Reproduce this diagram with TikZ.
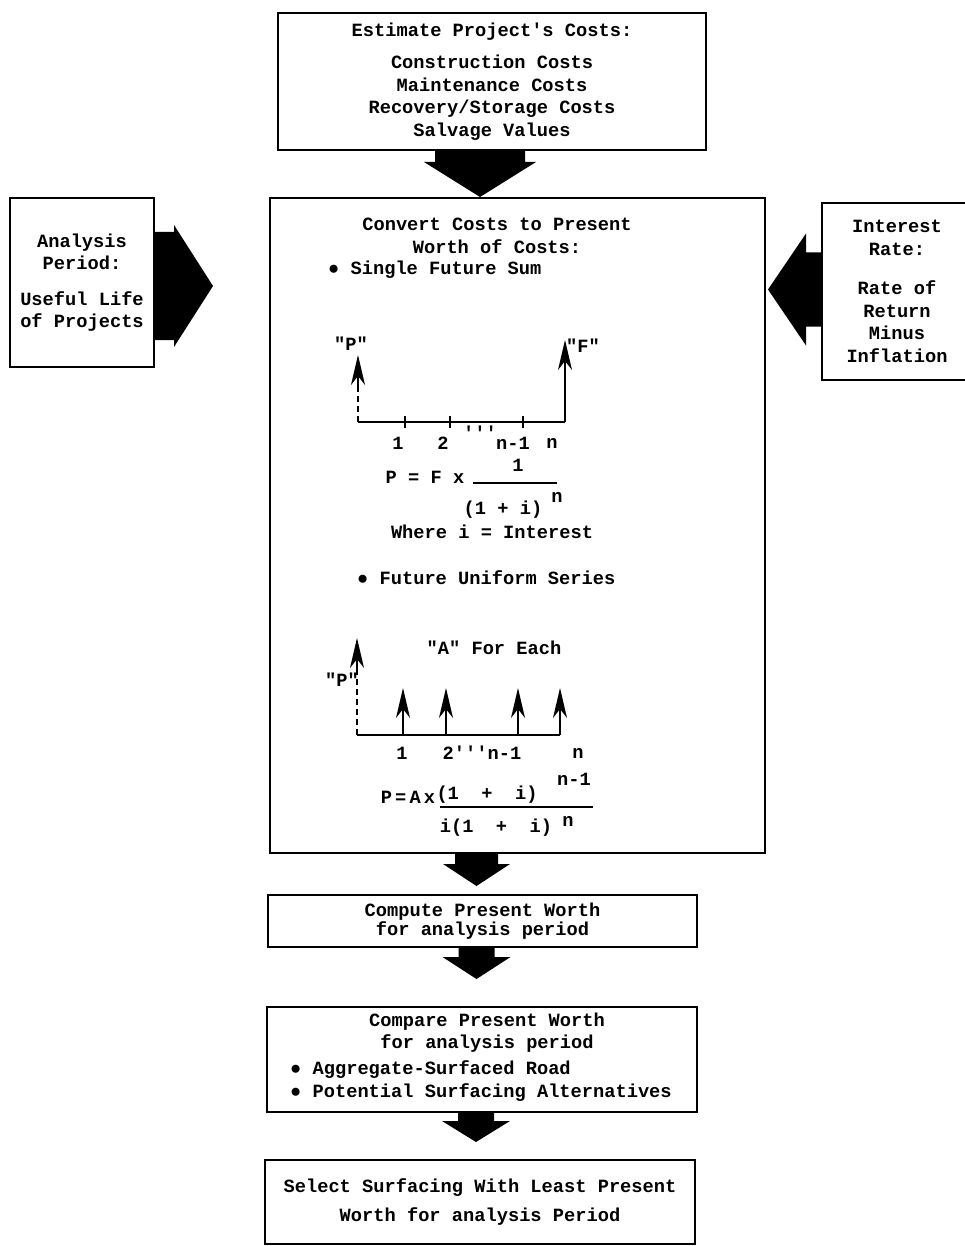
\documentclass[tikz,border=0pt]{standalone}
\usepackage{fontspec}
\setmonofont{Liberation Mono}
\usetikzlibrary{arrows.meta,calc}

\tikzset{
  txt/.style={font=\ttfamily\bfseries\fontsize{18.7}{22.5}\selectfont, inner sep=0pt, align=center},
  box/.style={txt, draw, line width=2pt},
  upar/.style={line width=1.6pt, -{Stealth[length=30pt,width=14pt,inset=9pt]}},
  dsh/.style={line width=1.6pt, dash pattern=on 6pt off 4pt},
  tline/.style={line width=2.6pt},
}

% filled block arrow: tail, tip, shaft half width, head half width, head length
\newcommand{\blockarrow}[5]{%
  \coordinate (ba) at ($(#2)!#5!(#1)$);
  \fill ($(#1)!#3!90:(#2)$) -- ($(ba)!#3!90:(#2)$) -- ($(ba)!#4!90:(#2)$) -- (#2)
    -- ($(ba)!#4!-90:(#2)$) -- ($(ba)!#3!-90:(#2)$) -- ($(#1)!#3!-90:(#2)$) -- cycle;}

\begin{document}
\begin{tikzpicture}[x=1pt,y=-1pt]
\useasboundingbox (0,0) rectangle (964,1246);

% boxes
\node[box, minimum width=428, minimum height=137] (cost) at (492,81.5)
  {Estimate Project's Costs:\\[10pt]Construction Costs\\Maintenance Costs\\Recovery/Storage Costs\\Salvage Values};
\node[box, minimum width=495, minimum height=655] (conv) at (517.5,525.5) {};
\node[box, minimum width=144, minimum height=169] (period) at (82,282.5)
  {Analysis\\Period:\\[13pt]Useful Life\\of Projects};
\node[box, minimum width=150, minimum height=177] (rate) at (897,291.5)
  {Interest\\Rate:\\[17pt]Rate of\\Return\\Minus\\Inflation};
\node[box, minimum width=429, minimum height=52] (comp) at (482.5,921)
  {Compute Present Worth\\[-4pt]for analysis period};
\node[box, minimum width=430, minimum height=105] (cmpr) at (482,1059.5) {};
\node[box, minimum width=430, minimum height=84] (sel) at (480,1202)
  {Select Surfacing With Least Present\\[6pt]Worth for analysis Period};

% compare box text
\node[txt] (cmprT) at (487,1032.5) {Compare Present Worth\\[-1pt]for analysis period};
\node[txt, anchor=west] (cmprA) at (290,1070) {● Aggregate-Surfaced Road};
\node[txt, anchor=west] (cmprB) at (290,1093) {● Potential Surfacing Alternatives};

% block arrows
\coordinate (k1) at ($(cost.south)+(-12,0)$);
\coordinate (k1e) at (k1 |- conv.north);
\blockarrow{k1}{k1e}{45pt}{56pt}{35pt}
\coordinate (kL) at ($(period.east)+(0,3.5)$);
\coordinate (kLe) at ($(kL)+(58,0)$);
\blockarrow{kL}{kLe}{54pt}{61pt}{39pt}
\coordinate (kR) at ($(rate.west)+(0,-2)$);
\coordinate (kRe) at ($(kR)+(-53,0)$);
\blockarrow{kR}{kRe}{37pt}{56pt}{38pt}
\coordinate (k2) at ($(conv.south)+(-41,0)$);
\coordinate (k2e) at ($(k2 |- comp.north)+(0,-8)$);
\blockarrow{k2}{k2e}{21.5pt}{33.5pt}{22pt}
\coordinate (k3) at ($(comp.south)+(-6,0)$);
\coordinate (k3e) at ($(k3 |- cmpr.north)+(0,-27)$);
\blockarrow{k3}{k3e}{18pt}{34pt}{22pt}
\coordinate (k4) at ($(cmpr.south)+(-6,0)$);
\coordinate (k4e) at ($(k4 |- sel.north)+(0,-17)$);
\blockarrow{k4}{k4e}{18pt}{34pt}{21pt}

% convert box heading
\node[txt] (convT) at (497,236) {Convert Costs to Present\\Worth of Costs:};
\node[txt, anchor=west] (single) at (328,270) {● Single Future Sum};

% single sum time line
\coordinate (a0) at (358,422);
\coordinate (a1) at (405,422);
\coordinate (a2) at (450,422);
\coordinate (a3) at (523,422);
\coordinate (an) at (565,422);
\coordinate (aPb) at (358,386);
\coordinate (aP) at (358,355);
\coordinate (aF) at (565,340);
\draw[tline] (a0) -- (an);
\foreach \t in {a1,a2,a3}
  \draw[line width=2pt] ($(\t)+(0,-6)$) -- ($(\t)+(0,6)$);
\draw[dsh] (a0) -- (aPb);
\draw[upar] (aPb) -- (aP);
\draw[upar] (an) -- (aF);
\node[txt] (lP) at (351,344) {"P"};
\node[txt] (lF) at (583,346) {"F"};
\node[txt] (l1) at (398,443) {1};
\node[txt] (l2) at (443,443) {2};
\node[txt] (ldots) at (480,433) {'''};
\node[txt] (lm) at (513,443) {n-1};
\node[txt] (ln) at (552,443) {n};

% single sum formula
\node[txt] (f1a) at (425,477) {P = F x};
\node[txt] (f1n) at (518,465) {1};
\coordinate (f1l) at (473,483);
\coordinate (f1r) at (557,483);
\draw[line width=1.6pt] (f1l) -- (f1r);
\node[txt] (f1d) at (503,510) {(1 + i)};
\node[txt] (f1e) at (557,497) {n};
\node[txt] (where) at (492,532) {Where i = Interest};

% uniform series
\node[txt, anchor=west] (unif) at (357,578) {● Future Uniform Series};
\node[txt] (lA) at (494,648) {"A" For Each};
\coordinate (b0) at (357,735);
\coordinate (b1) at (403,735);
\coordinate (b2) at (446,735);
\coordinate (b3) at (518,735);
\coordinate (bn) at (560,735);
\coordinate (bPb) at (357,672);
\coordinate (bP) at (357,638);
\foreach \t in {b1,b2,b3,bn}
  \coordinate (\t t) at ($(\t)+(0,-47)$);
\draw[tline] (b0) -- (bn);
\foreach \t in {b1,b2,b3,bn}
  \draw[upar] (\t) -- (\t t);
\draw[dsh] (b0) -- (bPb);
\draw[upar] (bPb) -- (bP);
\node[txt] (mP) at (342,680) {"P"};
\node[txt] (m1) at (402,753) {1};
\node[txt] (m2) at (482,753) {2'''n-1};
\node[txt] (mn) at (578,753) {n};

% uniform series formula
\node[txt] (f2a) at (408,797) {P\,=\,A\,x};
\node[txt] (f2n) at (487,795) {(1~~+~~i)};
\node[txt] (f2e) at (574,779) {n-1};
\coordinate (f2l) at (440,807);
\coordinate (f2r) at (593,807);
\draw[line width=1.6pt] (f2l) -- (f2r);
\node[txt] (f2d) at (496,828) {i(1~~+~~i)};
\node[txt] (f2f) at (568,821) {n};
\end{tikzpicture}
\end{document}
